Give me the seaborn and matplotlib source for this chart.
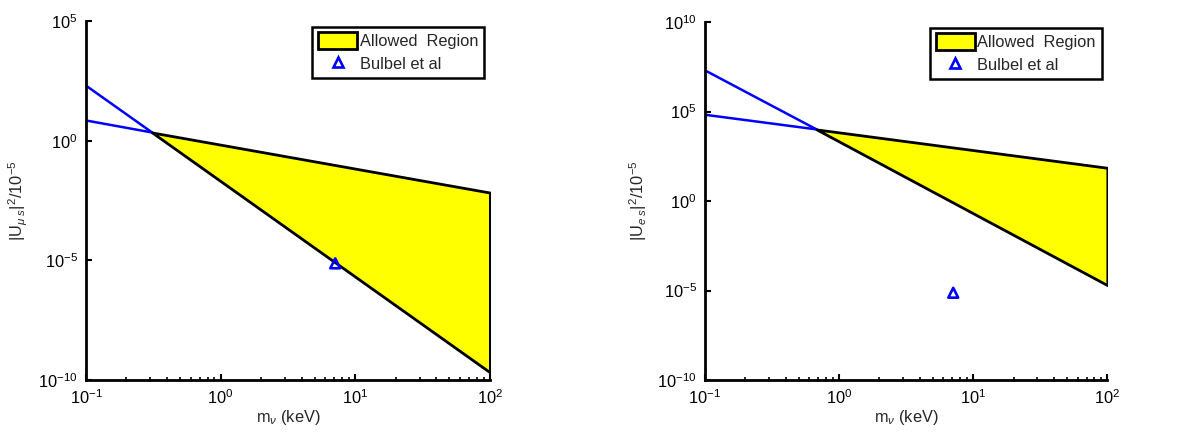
"""
Sterile neutrino mixing bounds: allowed region in |U|^2 vs m_nu,
muon (left) and electron (right) flavour, with the Bulbul et al point.
"""

import matplotlib
matplotlib.use("Agg")
import matplotlib.pyplot as plt
import matplotlib.ticker as mticker
from matplotlib.patches import Patch
from matplotlib.lines import Line2D
import seaborn as sns

# ── data ──────────────────────────────────────────────────
MASS_LIM = [0.1, 100]

# muon panel
mu_cross = 0.31
mu_blue_x = [0.1, mu_cross]
mu_blue_steep = [200, 2.2]
mu_blue_flat = [7.0, 2.2]
mu_band_x = [mu_cross, 100]
mu_band_upper = [2.2, 6.8e-3]
mu_band_lower = [2.2, 2.1e-10]
mu_ylim = [1e-10, 1e5]

# electron panel
e_cross = 0.68
e_blue_x = [0.1, e_cross]
e_blue_steep = [2.0e7, 1.0e4]
e_blue_flat = [6.6e4, 1.0e4]
e_band_x = [e_cross, 100]
e_band_upper = [1.0e4, 72]
e_band_lower = [1.0e4, 2.0e-5]
e_ylim = [1e-10, 1e10]

# Bulbul et al point
bulbul_mass = [7.1]
bulbul_u2 = [7.5e-6]

BLUE = "#0000ff"
YELLOW = "#ffff00"
FS = 11.8

sns.set_theme(style="white")
plt.rcParams.update({
    "font.family": ["Liberation Sans", "DejaVu Sans"],
    "mathtext.fontset": "custom",
    "mathtext.rm": "Liberation Sans",
    "mathtext.it": "Liberation Sans:italic",
    "mathtext.bf": "Liberation Sans:bold",
    "font.size": FS,
    "xtick.labelsize": FS,
    "ytick.labelsize": FS,
})


def draw_panel(ax, blue_x, blue_steep, blue_flat, band_x, band_up, band_lo,
               ylim, ylabel, yticks):
    sns.lineplot(x=blue_x, y=blue_steep, ax=ax, color=BLUE, lw=1.8,
                 estimator=None, sort=False)
    sns.lineplot(x=blue_x, y=blue_flat, ax=ax, color=BLUE, lw=1.8,
                 estimator=None, sort=False)
    ax.fill_between(band_x, band_lo, band_up, facecolor=YELLOW,
                    edgecolor="black", lw=2, zorder=3)
    sns.scatterplot(x=bulbul_mass, y=bulbul_u2, ax=ax, marker="^", s=50,
                    facecolor="none", edgecolor=BLUE, linewidth=1.9, zorder=4)

    ax.set_xscale("log")
    ax.set_yscale("log")
    ax.set_xlim(MASS_LIM)
    ax.set_ylim(ylim)

    ax.set_yticks(yticks)
    ax.yaxis.set_minor_locator(mticker.NullLocator())
    ax.xaxis.set_major_locator(mticker.LogLocator(base=10, numticks=10))
    ax.xaxis.set_minor_locator(mticker.LogLocator(base=10, subs=range(2, 10), numticks=20))
    ax.xaxis.set_minor_formatter(mticker.NullFormatter())

    for side in ["top", "right"]:
        ax.spines[side].set_visible(False)
    for side in ["left", "bottom"]:
        ax.spines[side].set_linewidth(2)
        ax.spines[side].set_color("black")
    ax.tick_params(which="major", direction="in", length=4, width=1.5,
                   colors="black", pad=6)
    ax.tick_params(which="minor", direction="in", length=2, width=1.2,
                   colors="black")
    ax.tick_params(axis="x", which="both", bottom=True, top=False)
    ax.tick_params(axis="y", which="both", left=True, right=False)

    ax.set_xlabel(r"m$_\nu$ (keV)", fontsize=FS, labelpad=1)
    ax.set_ylabel(ylabel, fontsize=FS, labelpad=6)

    handles = [
        Patch(facecolor=YELLOW, edgecolor="black", lw=2, label="Allowed  Region"),
        Line2D([], [], ls="none", marker="^", color=BLUE, mfc="none", mew=1.9,
               ms=7, label="Bulbel et al"),
    ]
    leg = ax.legend(handles=handles, loc="upper right", fancybox=False,
                    framealpha=1, edgecolor="black", fontsize=FS,
                    handlelength=2.4, handleheight=1.2, borderaxespad=0.35,
                    borderpad=0.35, labelspacing=0.35, handletextpad=0.15)
    leg.get_frame().set_linewidth(1.8)


fig = plt.figure(figsize=(12.04, 4.37), dpi=100)
ax1 = fig.add_axes([0.0714, 0.1304, 0.3355, 0.8215])
ax2 = fig.add_axes([0.5855, 0.1304, 0.3342, 0.8192])

draw_panel(ax1, mu_blue_x, mu_blue_steep, mu_blue_flat, mu_band_x,
           mu_band_upper, mu_band_lower, mu_ylim,
           r"|U$_{\mu\ s}$|$^2$/10$^{-5}$", [1e-10, 1e-5, 1e0, 1e5])
draw_panel(ax2, e_blue_x, e_blue_steep, e_blue_flat, e_band_x,
           e_band_upper, e_band_lower, e_ylim,
           r"|U$_{e\ s}$|$^2$/10$^{-5}$", [1e-10, 1e-5, 1e0, 1e5, 1e10])

plt.savefig("out.png", dpi=100)
plt.close()
